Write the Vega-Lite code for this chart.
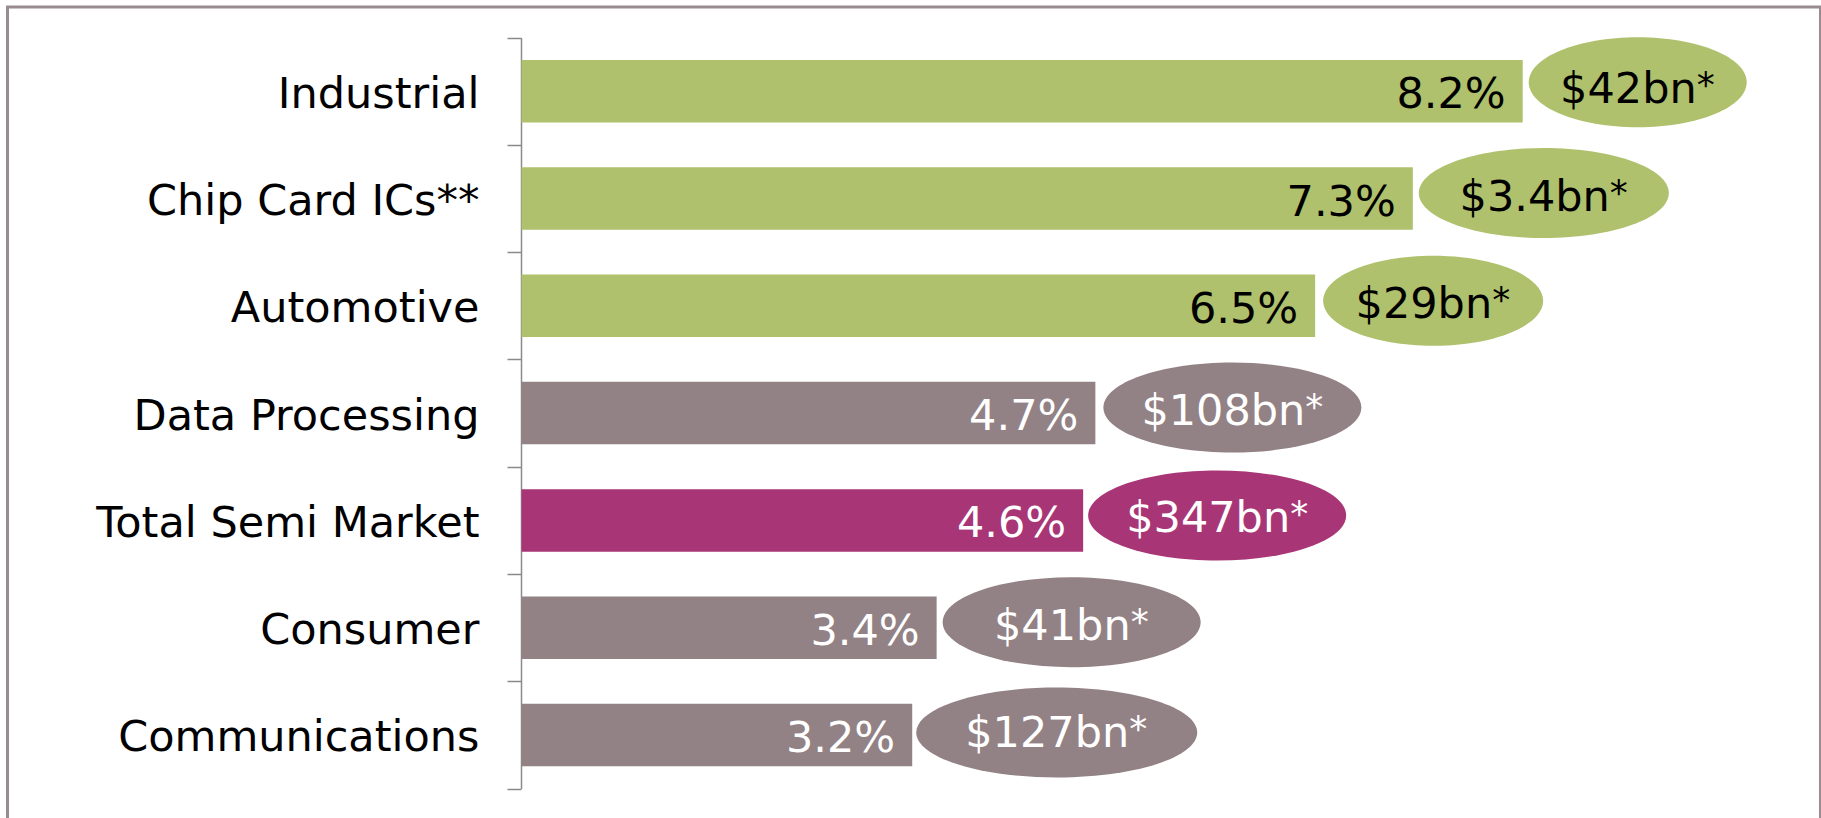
{
  "$schema": "https://vega.github.io/schema/vega-lite/v6.json",
  "width": 1813,
  "height": 815,
  "autosize": {"type": "none"},
  "padding": {"left": 7.5, "top": 7, "right": 0, "bottom": 0},
  "background": "white",
  "config": {"view": {"stroke": "#9a8b90", "strokeWidth": 3}, "font": "DejaVu Sans"},
  "data": {
    "values": [
      {"Category": "Industrial", "Growth": 0.082, "Size": "$42bn", "Group": "high"},
      {"Category": "Chip Card ICs**", "Growth": 0.073, "Size": "$3.4bn", "Group": "high"},
      {"Category": "Automotive", "Growth": 0.065, "Size": "$29bn", "Group": "high"},
      {"Category": "Data Processing", "Growth": 0.047, "Size": "$108bn", "Group": "low"},
      {"Category": "Total Semi Market", "Growth": 0.046, "Size": "$347bn", "Group": "total"},
      {"Category": "Consumer", "Growth": 0.034, "Size": "$41bn", "Group": "low"},
      {"Category": "Communications", "Growth": 0.032, "Size": "$127bn", "Group": "low"}
    ]
  },
  "encoding": {
    "y": {
      "field": "Category",
      "type": "nominal",
      "sort": null,
      "scale": {"range": [30.6, 781.6], "paddingInner": 0, "paddingOuter": 0, "round": false},
      "axis": {
        "title": null,
        "orient": "left",
        "offset": -513.5,
        "tickBand": "extent",
        "grid": false,
        "domainColor": "#8a8a8a",
        "domainWidth": 1.5,
        "tickColor": "#8a8a8a",
        "tickWidth": 1.5,
        "tickSize": 14,
        "labelFont": "DejaVu Sans",
        "labelFontSize": 43,
        "labelColor": "black",
        "labelPadding": 28,
        "labelLimit": 800,
        "labelOffset": 3
      }
    },
    "x": {
      "field": "Growth",
      "type": "quantitative",
      "scale": {"domain": [0, 0.1], "range": [514, 1735], "nice": false, "zero": false},
      "axis": null
    }
  },
  "layer": [
    {
      "mark": {"type": "bar", "height": {"band": 0.5825}},
      "encoding": {
        "color": {"field": "Group", "type": "nominal", "scale": {"domain": ["high", "total", "low"], "range": ["#afc16c", "#a83676", "#938285"]}, "legend": null}
      }
    },
    {
      "mark": {"type": "text", "align": "right", "baseline": "middle", "dx": -17, "dy": 4, "fontSize": 43, "font": "DejaVu Sans"},
      "encoding": {
        "text": {"field": "Growth", "type": "quantitative", "format": ".1%"},
        "color": {"condition": {"test": "datum.Group == 'high'", "value": "black"}, "value": "white"}
      }
    },
    {
      "mark": {"type": "point", "filled": true, "opacity": 1, "size": 4, "strokeWidth": 0},
      "encoding": {
        "shape": {
          "field": "Category",
          "type": "nominal",
          "legend": null,
          "scale": {
            "domain": ["Industrial", "Chip Card ICs**", "Automotive", "Data Processing", "Total Semi Market", "Consumer", "Communications"],
            "range": [
              "M6,-9 C6,-33.85 54.8,-54 115,-54 C175.2,-54 224,-33.85 224,-9 C224,15.85 175.2,36 115,36 C54.8,36 6,15.85 6,-9 Z",
              "M6,-5.5 C6,-30.35 61.96,-50.5 131,-50.5 C200.04,-50.5 256,-30.35 256,-5.5 C256,19.35 200.04,39.5 131,39.5 C61.96,39.5 6,19.35 6,-5.5 Z",
              "M8,-5 C8,-29.85 57.25,-50 118,-50 C178.75,-50 228,-29.85 228,-5 C228,19.85 178.75,40 118,40 C57.25,40 8,19.85 8,-5 Z",
              "M8,-5.5 C8,-30.35 65.75,-50.5 137,-50.5 C208.25,-50.5 266,-30.35 266,-5.5 C266,19.35 208.25,39.5 137,39.5 C65.75,39.5 8,19.35 8,-5.5 Z",
              "M5,-5 C5,-29.85 62.75,-50 134,-50 C205.25,-50 263,-29.85 263,-5 C263,19.85 205.25,40 134,40 C62.75,40 5,19.85 5,-5 Z",
              "M6,-5.5 C6,-30.35 63.75,-50.5 135,-50.5 C206.25,-50.5 264,-30.35 264,-5.5 C264,19.35 206.25,39.5 135,39.5 C63.75,39.5 6,19.35 6,-5.5 Z",
              "M4,-2.5 C4,-27.35 66.9,-47.5 144.5,-47.5 C222.1,-47.5 285,-27.35 285,-2.5 C285,22.35 222.1,42.5 144.5,42.5 C66.9,42.5 4,22.35 4,-2.5 Z"
            ]
          }
        },
        "color": {"field": "Group", "type": "nominal", "scale": {"domain": ["high", "total", "low"], "range": ["#afc16c", "#a83676", "#938285"]}, "legend": null}
      }
    },
    {
      "mark": {
        "type": "text",
        "align": "right",
        "baseline": "middle",
        "dy": -1,
        "fontSize": 43,
        "font": "DejaVu Sans",
        "dx": {"expr": "[174,197,177,210,207,194,217][indexof(['Industrial','Chip Card ICs**','Automotive','Data Processing','Total Semi Market','Consumer','Communications'], datum.Category)]"}
      },
      "encoding": {
        "text": {"field": "Size", "type": "nominal"},
        "color": {"condition": {"test": "datum.Group == 'high'", "value": "black"}, "value": "white"}
      }
    },
    {
      "mark": {
        "type": "text",
        "align": "left",
        "baseline": "middle",
        "dy": -5,
        "fontSize": 36,
        "font": "DejaVu Sans",
        "dx": {"expr": "[174,197,177,210,207,194,217][indexof(['Industrial','Chip Card ICs**','Automotive','Data Processing','Total Semi Market','Consumer','Communications'], datum.Category)]"}
      },
      "encoding": {
        "text": {"value": "*"},
        "color": {"condition": {"test": "datum.Group == 'high'", "value": "black"}, "value": "white"}
      }
    }
  ]
}
